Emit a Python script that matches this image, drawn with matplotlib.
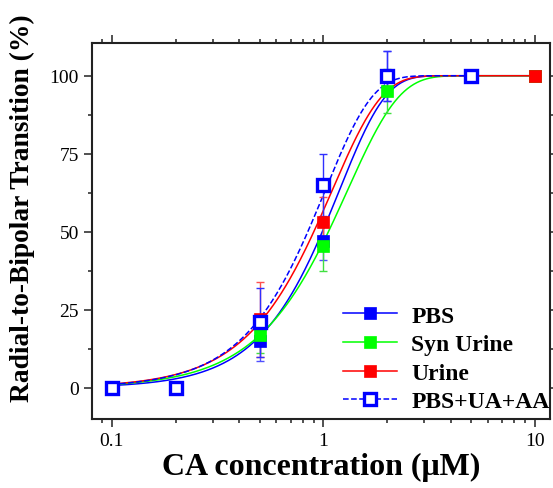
import numpy as np
import matplotlib
matplotlib.use("Agg")
import matplotlib.pyplot as plt
from matplotlib.lines import Line2D
from matplotlib.ticker import FixedLocator, NullFormatter, LogLocator

plt.rcParams['font.family'] = ['Liberation Serif', 'DejaVu Serif']
plt.rcParams['mathtext.fontset'] = 'stix'

# measured points (CA concentration in uM, transition in %)
conc = [0.1, 0.2, 0.5, 1, 2, 5, 10]
pbs = [0, 0, 15, 47, 100, 100, 100]
pbs_err = [0, 0, 6.5, 6, 8, 0, 0]
syn = [0, 0, 17, 45.5, 95, 100, 100]
syn_err = [0, 0, 6, 8, 7, 0, 0]
urine = [0, 0, 22, 53, 100, 100, 100]
urine_err = [0, 0, 12, 8, 0, 0, 0]
conc_ua = [0.1, 0.2, 0.5, 1, 2, 5]
pbs_ua = [0, 0, 21, 65, 100, 100]
pbs_ua_err = [0, 0, 11, 10, 8, 0]

# fitted curve parameters (Weibull-type: scale, shape) and x-range end
fit_scale = [1.19, 1.30, 1.10, 1.02]
fit_shape = [1.98, 1.77, 1.84, 1.94]
fit_end = [10, 10, 10, 5]

names = ['PBS', 'Syn Urine', 'Urine', 'PBS+UA+AA']
colors = ['#0000ff', '#00ff00', '#ff0000', '#0000ff']
ecolors = ['#5050ff', '#40e040', '#ff5050', '#3030ff']

def fit_curve(x, lam, k):
    return 100 * (1 - np.exp(-(x / lam) ** k))

fig = plt.figure(figsize=(5.53, 4.89), dpi=100)
ax = fig.add_axes([0.1664, 0.1411, 0.828, 0.769])

series = [(conc, pbs, pbs_err), (conc, syn, syn_err), (conc, urine, urine_err),
          (conc_ua, pbs_ua, pbs_ua_err)]

for i, (xs, ys, es) in enumerate(series):
    xf = np.logspace(-1, np.log10(fit_end[i]), 400)
    ls = '--' if i == 3 else '-'
    ax.plot(xf, fit_curve(xf, fit_scale[i], fit_shape[i]), color=colors[i],
            lw=1.1, ls=ls, zorder=2 + i)

for i, (xs, ys, es) in enumerate(series):
    ax.errorbar(xs, ys, yerr=es, fmt='none', ecolor=ecolors[i], elinewidth=1.0,
                capsize=3, capthick=1.0, zorder=3 + i)
    if i == 3:
        ax.plot(xs, ys, ls='none', marker='s', ms=8.5, mfc='white', mec=colors[i],
                mew=2.4, zorder=10)
    else:
        ax.plot(xs, ys, ls='none', marker='s', ms=8.5, mfc=colors[i], mec=colors[i],
                mew=0.5, zorder=7 + i)

ax.set_xscale('log')
ax.set_xlim(0.0805, 11.8)
ax.set_ylim(-10, 110.5)

ax.xaxis.set_major_locator(FixedLocator([0.1, 1, 10]))
ax.xaxis.set_minor_locator(LogLocator(base=10, subs=np.arange(2, 10)))
ax.xaxis.set_minor_formatter(NullFormatter())
ax.set_xticklabels(['0.1', '1', '10'])
ax.set_yticks([0, 25, 50, 75, 100])
ax.yaxis.set_minor_locator(FixedLocator([12.5, 37.5, 62.5, 87.5]))

ax.tick_params(which='both', direction='out', top=True, right=True,
               labelsize=14, width=1.2, color='#333333')
ax.tick_params(which='major', length=6)
ax.tick_params(which='minor', length=3)
for sp in ax.spines.values():
    sp.set_linewidth(1.5)
    sp.set_color('#222222')

ax.set_xlabel('CA concentration (μM)', fontsize=23, fontweight='bold', labelpad=2)
ax.set_ylabel('Radial-to-Bipolar Transition (%)', fontsize=19.8, fontweight='bold')
ax.yaxis.set_label_coords(-0.124, 0.564)

handles = []
for i in range(4):
    if i == 3:
        h = Line2D([], [], color=colors[i], ls='--', lw=1.1, marker='s', ms=8.5,
                   mfc='white', mec=colors[i], mew=2.4)
    else:
        h = Line2D([], [], color=colors[i], lw=1.1, marker='s', ms=8.5,
                   mfc=colors[i], mec=colors[i], mew=0.5)
    handles.append(h)
ax.legend(handles, names, loc='upper left', bbox_to_anchor=(0.548, 0.303),
          frameon=False, prop={'size': 17, 'weight': 'bold'}, handlelength=2.3,
          handletextpad=0.6, labelspacing=0.3, borderpad=0, borderaxespad=0)

fig.savefig('out.png', dpi=100)
